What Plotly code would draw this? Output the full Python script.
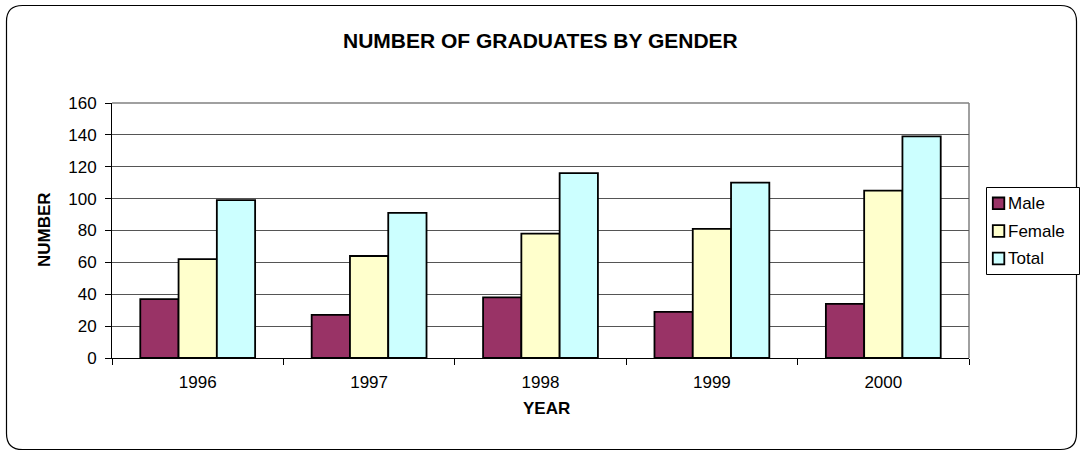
import plotly.graph_objects as go

years = ["1996", "1997", "1998", "1999", "2000"]
series_names = ["Male", "Female", "Total"]
male = [37, 27, 38, 29, 34]
female = [62, 64, 78, 81, 105]
total = [99, 91, 116, 110, 139]
y_ticks = [0, 20, 40, 60, 80, 100, 120, 140, 160]
colors = ["#993366", "#FFFFCC", "#CCFFFF"]

W, H = 1082, 455
L, R, T, B = 112, 969, 103, 358
pw, ph = R - L, B - T

FONT = "Arial, 'Liberation Sans', sans-serif"


def px(x):
    return (x - L) / pw


def py(y):
    return (B - y) / ph


fig = go.Figure()
for name, vals, col in zip(series_names, [male, female, total], colors):
    fig.add_trace(go.Bar(x=years, y=vals, name=name, showlegend=False,
                         marker=dict(color=col, line=dict(color="black", width=1.8))))

# outer rounded border
x0, x1, y0, y1 = 6.5, 1076.5, 5.5, 449.5
r = 16
path = (f"M {px(x0+r)},{py(y0)} L {px(x1-r)},{py(y0)} Q {px(x1)},{py(y0)} {px(x1)},{py(y0+r)} "
        f"L {px(x1)},{py(y1-r)} Q {px(x1)},{py(y1)} {px(x1-r)},{py(y1)} "
        f"L {px(x0+r)},{py(y1)} Q {px(x0)},{py(y1)} {px(x0)},{py(y1-r)} "
        f"L {px(x0)},{py(y0+r)} Q {px(x0)},{py(y0)} {px(x0+r)},{py(y0)} Z")
fig.add_shape(type="path", path=path, xref="paper", yref="paper",
              line=dict(color="black", width=1.2), layer="below")
# plot area border top/right (gray)
fig.add_shape(type="line", x0=0, x1=1, y0=1, y1=1, xref="paper", yref="paper",
              line=dict(color="#808080", width=1.5), layer="below")
fig.add_shape(type="line", x0=1, x1=1, y0=0, y1=1, xref="paper", yref="paper",
              line=dict(color="#808080", width=1.5), layer="below")

# manual legend
lx0, lx1, ly0, ly1 = 986.5, 1079.5, 187.5, 274.5
fig.add_shape(type="rect", x0=px(lx0), x1=px(lx1), y0=py(ly0), y1=py(ly1),
              xref="paper", yref="paper", line=dict(color="black", width=1), fillcolor="white")
item_y = [203.3, 231, 258.5]
for name, col, cy in zip(series_names, colors, item_y):
    fig.add_shape(type="rect", x0=px(992.8), x1=px(1004.3), y0=py(cy - 5.8), y1=py(cy + 5.8),
                  xref="paper", yref="paper", line=dict(color="black", width=1.8), fillcolor=col)
    fig.add_annotation(x=px(1006), y=py(cy), xref="paper", yref="paper", text=name,
                       showarrow=False, xanchor="left", yanchor="middle",
                       font=dict(size=17, family=FONT, color="black"))

# titles
fig.add_annotation(x=px(540.5), y=py(41), xref="paper", yref="paper",
                   text="<b>NUMBER OF GRADUATES BY GENDER</b>", showarrow=False,
                   xanchor="center", yanchor="middle", font=dict(size=21, family=FONT, color="black"))
fig.add_annotation(x=px(44), y=py(230), xref="paper", yref="paper",
                   text="<b>NUMBER</b>", showarrow=False, textangle=-90,
                   xanchor="center", yanchor="middle", font=dict(size=17, family=FONT, color="black"))
fig.add_annotation(x=px(546), y=py(408), xref="paper", yref="paper",
                   text="<b>YEAR</b>", showarrow=False,
                   xanchor="center", yanchor="middle", font=dict(size=17, family=FONT, color="black"))

fig.update_layout(
    width=W, height=H,
    margin=dict(l=L, r=W - R, t=T, b=H - B, pad=0, autoexpand=False),
    paper_bgcolor="white", plot_bgcolor="white",
    barmode="group", bargap=0.33, bargroupgap=0,
    font=dict(family=FONT, size=17, color="black"),
    showlegend=False,
    xaxis=dict(type="category", tickson="boundaries", ticks="outside", ticklen=6, tickcolor="black",
               showline=True, linecolor="black", linewidth=1, showgrid=False,
               ticklabelstandoff=9, tickfont=dict(size=17)),
    yaxis=dict(range=[0, 160], tickvals=y_ticks, ticks="outside", ticklen=6, tickcolor="black",
               showline=True, linecolor="black", linewidth=1,
               showgrid=True, gridcolor="#555555", gridwidth=1, zeroline=False,
               ticklabelstandoff=5, tickfont=dict(size=17)),
)

fig.write_html("out.html", config={"displayModeBar": False},
               post_script="document.body.style.margin='0';")
